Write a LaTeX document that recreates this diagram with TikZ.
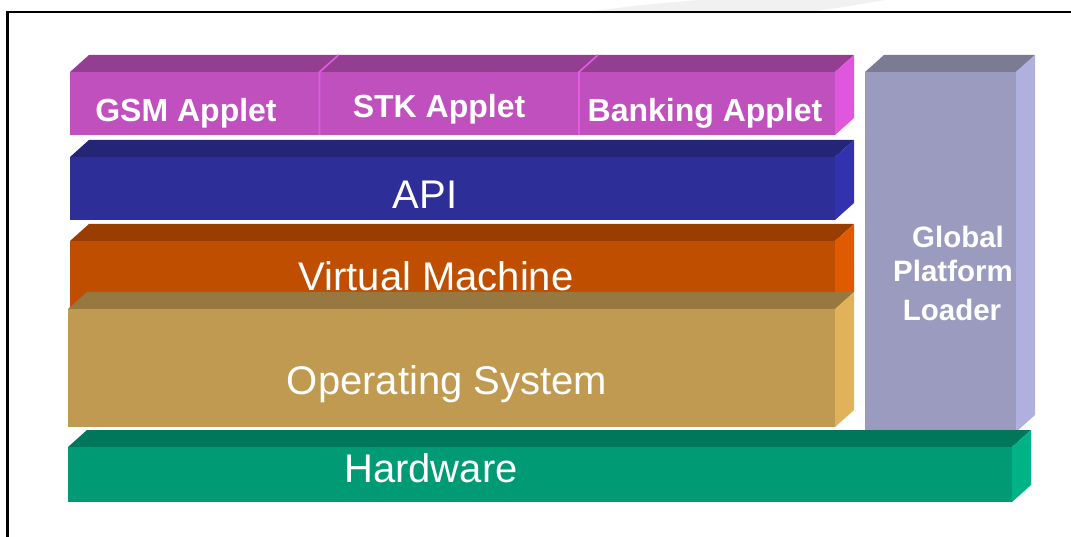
\documentclass[tikz,border=0pt]{standalone}
\usepackage{fontspec}
\setmainfont{Liberation Sans}
\definecolor{appF}{RGB}{193,80,191}
\definecolor{appT}{RGB}{148,62,146}
\definecolor{appS}{RGB}{222,87,221}
\definecolor{appL}{RGB}{226,92,226}
\definecolor{apiF}{RGB}{45,46,152}
\definecolor{apiT}{RGB}{36,37,118}
\definecolor{apiS}{RGB}{50,50,175}
\definecolor{vmF}{RGB}{192,78,0}
\definecolor{vmT}{RGB}{153,61,0}
\definecolor{vmS}{RGB}{224,90,0}
\definecolor{osF}{RGB}{193,154,82}
\definecolor{osT}{RGB}{150,120,64}
\definecolor{osS}{RGB}{224,178,90}
\definecolor{hwF}{RGB}{0,154,116}
\definecolor{hwT}{RGB}{0,118,90}
\definecolor{hwS}{RGB}{0,179,134}
\definecolor{gpF}{RGB}{155,155,192}
\definecolor{gpT}{RGB}{123,123,148}
\definecolor{gpS}{RGB}{176,176,222}
\definecolor{haze}{RGB}{241,241,241}
% a 3-D slab: front face x0..x1, ytop..ybottom, with top and right faces
\newcommand\layerbox[5]{%
  \fill[#5T] (#1,#2) -- ++(19,-17) -- ++({#3-#1},0) -- (#3,#2) -- cycle;
  \fill[#5S] (#3,#2) -- ++(19,-17) -- ++(0,{#4-#2}) -- (#3,#4) -- cycle;
  \fill[#5F] (#1,#2) rectangle (#3,#4);
}
\tikzset{
  lbl/.style={text=white, anchor=base, inner sep=0pt, font=\fontsize{40}{40}\selectfont},
  applbl/.style={lbl, font=\fontsize{32}{32}\selectfont\bfseries},
  gplbl/.style={lbl, font=\fontsize{29.5}{29.5}\selectfont\bfseries},
  sep/.style={draw=appL, line width=1.6pt}
}
\begin{document}
\begin{tikzpicture}[x=1pt, y=-1pt]
\useasboundingbox (0,0) rectangle (1071,537);
\fill[white] (0,0) rectangle (1071,537);
% faint swoosh above the frame
\fill[haze] (585,12) .. controls (650,4) .. (700,0) -- (885,0) .. controls (850,6) .. (810,12) -- cycle;
\draw[line width=2.2pt] (7.5,537) |- (1071,12);

% applet row
\layerbox{70}{72}{835}{135}{app}
\draw[sep] (319.5,135) -- (319.5,72) -- ++(19,-17);
\draw[sep] (579,135) -- (579,72) -- ++(19,-17);
\node[applbl] (gsm) at (186,122) {GSM Applet};
\node[applbl] (stk) at (439,118) {STK Applet};
\node[applbl] (bank) at (705,122) {Banking Applet};

% API
\layerbox{70}{157}{835}{220}{api}
\node[lbl] (api) at (425,209) {API};

% virtual machine (its lower part is hidden by the OS slab)
\layerbox{70}{241}{835}{309}{vm}
\node[lbl] (vm) at (436,291) {Virtual Machine};

% operating system
\layerbox{68}{309}{835}{427}{os}
\node[lbl] (os) at (447,394) {Operating System};

% Global Platform loader column
\layerbox{865}{72}{1016}{432}{gp}
\node[gplbl] (gp1) at (958,248) {Global};
\node[gplbl] (gp2) at (953,282) {Platform};
\node[gplbl] (gp3) at (952,320) {Loader};

% hardware
\layerbox{68}{447}{1012}{502}{hw}
\node[lbl] (hw) at (431,482) {Hardware};
\end{tikzpicture}
\end{document}
